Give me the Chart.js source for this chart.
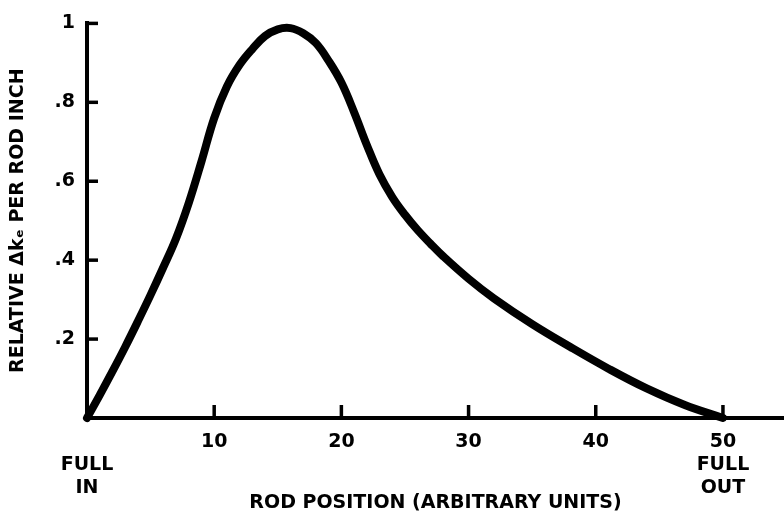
<!DOCTYPE html>
<html><head><meta charset="utf-8">
<script src="https://cdn.jsdelivr.net/npm/chart.js@4.4.1/dist/chart.umd.min.js"></script>
<style>html,body{margin:0;padding:0;background:#fff}#wrap{width:784px;height:516px}</style>
</head><body><div id="wrap"><canvas id="c" width="784" height="516"></canvas></div>
<script>
const rodPosition = [0, 1, 2, 3, 4, 5, 6, 7, 8, 9, 10, 11, 12, 13, 14, 15, 16, 17, 18, 19, 20, 21, 22, 23, 24, 25, 26, 27, 28, 30, 32, 35, 38, 41, 44, 47, 50];
const relativeDk  = [0, 0.058, 0.118, 0.18, 0.245, 0.312, 0.382, 0.455, 0.545, 0.65, 0.76, 0.84, 0.895, 0.935, 0.968, 0.985, 0.988, 0.975, 0.95, 0.905, 0.85, 0.775, 0.692, 0.617, 0.56, 0.515, 0.476, 0.442, 0.41, 0.353, 0.303, 0.238, 0.18, 0.125, 0.075, 0.033, 0];
const xTickValues = [10, 20, 30, 40, 50];
const yTickValues = [0.2, 0.4, 0.6, 0.8, 1];
const xTitle = 'ROD POSITION (ARBITRARY UNITS)';
const yTitle = 'RELATIVE \u0394k\u2091 PER ROD INCH';

const FONT = 'DejaVu Sans';
const tickMarks = {
  id: 'tickMarks',
  afterDraw(chart) {
    const {ctx, scales: {x, y}} = chart;
    ctx.save();
    ctx.strokeStyle = '#000';
    ctx.lineWidth = 3.5;
    ctx.lineCap = 'butt';
    xTickValues.forEach(v => {
      const px = x.getPixelForValue(v);
      ctx.beginPath(); ctx.moveTo(px, y.bottom); ctx.lineTo(px, y.bottom - 13); ctx.stroke();
    });
    yTickValues.forEach(v => {
      const py = y.getPixelForValue(v);
      ctx.beginPath(); ctx.moveTo(x.left, py); ctx.lineTo(x.left + 11, py); ctx.stroke();
    });
    ctx.restore();
  }
};

new Chart(document.getElementById('c'), {
  type: 'line',
  data: {
    datasets: [{
      data: rodPosition.map((p, i) => ({x: p, y: relativeDk[i]})),
      borderColor: '#000',
      borderWidth: 8,
      pointRadius: 0,
      tension: 0.4,
      borderCapStyle: 'round',
      borderJoinStyle: 'round',
      clip: false
    }]
  },
  options: {
    responsive: false,
    animation: false,
    devicePixelRatio: 1,
    layout: {padding: {top: 17, right: 0, left: 0, bottom: 0}},
    plugins: {legend: {display: false}, tooltip: {enabled: false}},
    scales: {
      x: {
        type: 'linear', min: 0, max: 54.8,
        afterFit(s) { s.height = 98; },
        grid: {display: false, drawTicks: false},
        border: {display: true, width: 4, color: '#000'},
        ticks: {
          stepSize: 10, includeBounds: false, padding: 13, color: '#000', maxRotation: 0, autoSkip: false,
          font: {family: FONT, size: 19, weight: 'bold', lineHeight: 1.2},
          callback: v => v === 0 ? ['', 'FULL', 'IN'] : (v === 50 ? ['50', 'FULL', 'OUT'] : (xTickValues.includes(v) ? String(v) : ''))
        },
        title: {display: true, text: xTitle, color: '#000', padding: {top: 0, bottom: 2},
          font: {family: FONT, size: 19, weight: 'bold', lineHeight: 1.2}}
      },
      y: {
        min: 0, max: 1,
        afterFit(s) { s.width = 87; },
        grid: {display: false, drawTicks: false},
        border: {display: true, width: 4, color: '#000'},
        ticks: {
          stepSize: 0.2, padding: 12, color: '#000',
          font: {family: FONT, size: 19, weight: 'bold'},
          callback: v => {
            const r = Math.round(v * 10) / 10;
            if (r === 0) return '';
            if (r === 1) return '1';
            return String(r).replace(/^0/, '');
          }
        },
        title: {display: true, text: yTitle, color: '#000', padding: {top: 7, bottom: 0},
          font: {family: FONT, size: 19, weight: 'bold', lineHeight: 1.2}}
      }
    }
  },
  plugins: [tickMarks]
});
</script></body></html>
